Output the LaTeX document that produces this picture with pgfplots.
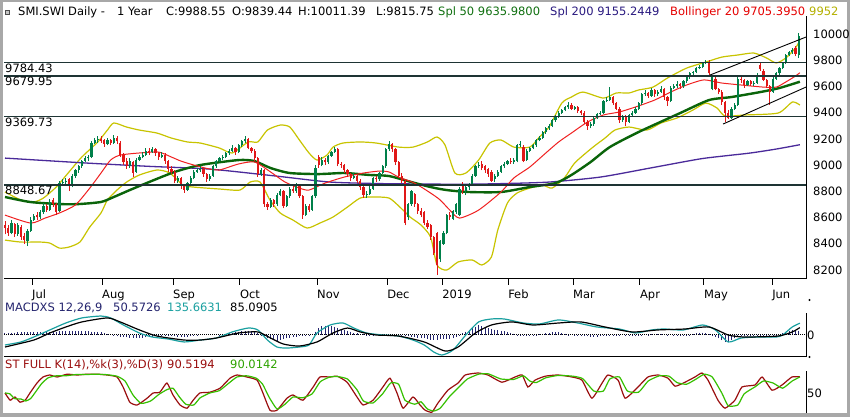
\documentclass[border=0pt]{standalone}
\usepackage{fontspec}
\setmainfont{DejaVu Sans}
\usepackage{pgfplots}
\usepackage{pgfplotstable}
\pgfplotsset{compat=1.18}

\definecolor{cgreen}{HTML}{00804A}
\definecolor{cred}{HTML}{E01818}
\definecolor{sma50}{HTML}{0A640A}
\definecolor{sma200}{HTML}{4A2A9A}
\definecolor{bbmid}{HTML}{F02020}
\definecolor{bband}{HTML}{C8C400}
\definecolor{hline}{HTML}{1E3434}
\definecolor{mteal}{HTML}{1AA0A0}
\definecolor{mnavy}{HTML}{24246E}
\definecolor{stk}{HTML}{9A0E0E}
\definecolor{std}{HTML}{36C000}
\definecolor{framec}{HTML}{A8A8A8}
\definecolor{ttlgreen}{HTML}{107010}
\definecolor{ttlpurple}{HTML}{2A1A80}
\definecolor{ttlolive}{HTML}{B4B000}

\pgfplotstableread[row sep=\\]{
o h l c\\
8540 8570 8470 8520\\ 8520 8540 8460 8480\\ 8480 8580 8470 8560\\ 8550 8560 8450 8470\\ 8470 8560 8460 8540\\
8530 8540 8430 8450\\ 8460 8480 8400 8430\\ 8420 8510 8380 8500\\ 8500 8600 8490 8580\\ 8580 8630 8570 8610\\
8620 8640 8580 8600\\ 8600 8660 8590 8640\\ 8640 8710 8630 8690\\ 8690 8700 8640 8660\\ 8660 8740 8650 8720\\
8730 8750 8680 8700\\ 8700 8710 8620 8640\\ 8650 8880 8640 8860\\ 8860 8890 8840 8870\\ 8870 8900 8850 8880\\
8890 8900 8800 8840\\ 8840 8930 8830 8920\\ 8920 8970 8900 8960\\ 8960 9000 8940 8990\\ 8990 9040 8980 9030\\
9030 9070 9020 9050\\ 9050 9080 9030 9060\\ 9060 9180 9050 9170\\ 9170 9210 9160 9190\\ 9190 9220 9170 9200\\
9200 9220 9170 9180\\ 9190 9200 9140 9160\\ 9160 9210 9150 9190\\ 9190 9200 9150 9170\\ 9170 9230 9160 9210\\
9210 9220 9160 9180\\ 9170 9180 9060 9080\\ 9080 9090 9000 9020\\ 9030 9050 8970 8990\\ 8990 9050 8980 9030\\
9020 9030 8910 8940\\ 8950 9050 8940 9040\\ 9040 9080 9030 9060\\ 9060 9100 9050 9080\\ 9080 9130 9070 9110\\
9110 9130 9080 9100\\ 9100 9140 9090 9120\\ 9120 9130 9070 9090\\ 9090 9100 9040 9060\\ 9060 9100 9050 9080\\
9080 9090 9010 9030\\ 9030 9040 8950 8970\\ 8970 8990 8930 8950\\ 8950 8960 8860 8880\\ 8880 8920 8860 8900\\
8900 8910 8820 8840\\ 8840 8850 8790 8810\\ 8810 8870 8800 8860\\ 8860 8920 8850 8900\\ 8900 8960 8890 8950\\
8950 8980 8940 8960\\ 8960 8990 8950 8970\\ 8970 8980 8910 8930\\ 8930 8940 8870 8890\\ 8890 8930 8880 8920\\
8920 9000 8910 8990\\ 8990 9040 8980 9030\\ 9030 9060 9020 9050\\ 9050 9080 9040 9060\\ 9060 9100 9050 9090\\
9090 9120 9080 9110\\ 9110 9150 9100 9130\\ 9130 9140 9080 9100\\ 9100 9160 9090 9150\\ 9150 9190 9140 9180\\
9180 9220 9170 9200\\ 9200 9210 9120 9130\\ 9130 9140 9090 9110\\ 9110 9120 9030 9050\\ 9050 9060 8910 8930\\
8930 8980 8920 8960\\ 8960 8970 8680 8700\\ 8700 8720 8660 8680\\ 8680 8750 8670 8730\\ 8730 8740 8680 8700\\
8700 8790 8690 8770\\ 8770 8820 8760 8800\\ 8800 8810 8670 8690\\ 8690 8770 8680 8760\\ 8760 8830 8750 8820\\
8820 8840 8790 8800\\ 8800 8860 8790 8840\\ 8840 8850 8750 8760\\ 8760 8770 8590 8620\\ 8620 8700 8610 8690\\
8690 8700 8640 8660\\ 8660 8770 8650 8760\\ 8760 9000 8750 8980\\ 9060 9080 8980 9000\\ 9000 9060 8990 9040\\
9040 9050 9000 9020\\ 9020 9080 9010 9070\\ 9070 9110 9060 9100\\ 9100 9140 9090 9120\\ 9120 9130 8990 9010\\
9010 9020 8980 9000\\ 9000 9010 8940 8960\\ 8960 8970 8910 8930\\ 8930 8940 8880 8900\\ 8900 8940 8890 8920\\
8920 8930 8860 8880\\ 8880 8890 8810 8830\\ 8830 8840 8750 8770\\ 8770 8800 8750 8780\\ 8780 8840 8770 8820\\
8820 8910 8810 8900\\ 8900 8920 8870 8890\\ 8890 8950 8880 8940\\ 8940 9000 8930 8990\\ 8990 9130 8980 9120\\
9120 9180 9110 9160\\ 9160 9170 9100 9120\\ 9120 9130 9000 9020\\ 9020 9030 8900 8920\\ 8920 8940 8860 8880\\
8880 8890 8540 8560\\ 8600 8710 8580 8700\\ 8700 8810 8690 8800\\ 8780 8790 8680 8700\\ 8700 8710 8630 8650\\
8650 8670 8600 8620\\ 8640 8650 8540 8560\\ 8560 8580 8510 8530\\ 8540 8550 8430 8450\\ 8450 8460 8310 8330\\
8480 8490 8160 8240\\ 8280 8430 8260 8420\\ 8400 8500 8390 8480\\ 8480 8630 8470 8620\\ 8620 8640 8580 8600\\
8590 8660 8580 8650\\ 8640 8710 8630 8700\\ 8620 8830 8610 8820\\ 8850 8870 8780 8800\\ 8800 8840 8770 8830\\
8830 8860 8810 8850\\ 8850 8930 8840 8920\\ 8920 9000 8910 8990\\ 8990 9020 8980 9000\\ 9010 9030 8960 8980\\
8990 9000 8940 8960\\ 8970 8980 8910 8930\\ 8950 8960 8870 8880\\ 8890 8930 8870 8920\\ 8920 8960 8910 8950\\
8950 9000 8940 8990\\ 8990 9020 8980 9010\\ 9010 9040 9000 9030\\ 9030 9050 9010 9020\\ 9020 9050 9010 9040\\
9030 9160 9020 9150\\ 9150 9180 9140 9160\\ 9140 9150 9020 9030\\ 9040 9120 9030 9110\\ 9110 9140 9100 9130\\
9130 9160 9120 9150\\ 9150 9200 9140 9190\\ 9190 9220 9180 9210\\ 9210 9260 9200 9250\\ 9250 9290 9240 9280\\
9280 9310 9270 9300\\ 9300 9350 9290 9340\\ 9340 9380 9330 9370\\ 9370 9410 9360 9400\\ 9400 9430 9390 9420\\
9420 9450 9410 9440\\ 9440 9480 9430 9460\\ 9460 9470 9420 9430\\ 9430 9450 9420 9440\\ 9440 9450 9400 9410\\
9410 9420 9380 9400\\ 9400 9410 9310 9330\\ 9330 9340 9270 9300\\ 9300 9330 9280 9310\\ 9310 9370 9300 9360\\
9360 9400 9350 9390\\ 9390 9410 9380 9400\\ 9400 9500 9390 9490\\ 9490 9520 9480 9500\\ 9500 9595 9490 9520\\
9520 9530 9460 9470\\ 9470 9480 9420 9430\\ 9430 9440 9320 9340\\ 9340 9380 9330 9370\\ 9370 9380 9300 9330\\
9330 9390 9320 9380\\ 9380 9410 9370 9400\\ 9400 9440 9390 9430\\ 9430 9480 9420 9470\\ 9470 9550 9460 9540\\
9540 9570 9530 9550\\ 9550 9560 9510 9530\\ 9530 9590 9520 9570\\ 9570 9580 9520 9540\\ 9540 9570 9530 9560\\
9560 9600 9550 9580\\ 9580 9590 9500 9520\\ 9520 9530 9450 9490\\ 9490 9600 9480 9590\\ 9590 9620 9580 9600\\
9600 9640 9590 9620\\ 9620 9630 9580 9600\\ 9600 9650 9590 9640\\ 9640 9680 9630 9670\\ 9670 9710 9660 9700\\
9700 9720 9690 9710\\ 9710 9750 9700 9740\\ 9740 9760 9730 9750\\ 9750 9790 9740 9780\\ 9780 9800 9770 9790\\
9790 9800 9690 9700\\ 9580 9680 9570 9670\\ 9660 9670 9570 9580\\ 9580 9590 9540 9560\\ 9560 9570 9460 9480\\
9480 9490 9325 9400\\ 9400 9420 9350 9360\\ 9360 9440 9350 9430\\ 9430 9470 9420 9460\\ 9460 9680 9450 9660\\
9660 9680 9630 9650\\ 9650 9660 9590 9610\\ 9610 9650 9600 9640\\ 9640 9650 9600 9620\\ 9620 9640 9600 9630\\
9630 9700 9620 9690\\ 9760 9780 9720 9730\\ 9720 9730 9640 9650\\ 9650 9660 9590 9600\\ 9600 9610 9460 9560\\
9560 9670 9550 9660\\ 9660 9710 9650 9700\\ 9700 9750 9690 9740\\ 9740 9790 9730 9780\\ 9780 9850 9770 9840\\
9840 9870 9830 9860\\ 9860 9890 9850 9880\\ 9890 9905 9830 9850\\ 9839.44 10011.39 9815.75 9988.55\\
}\candles

\pgfplotstableread[row sep=\\]{
v z\\
23 0\\ 25 0\\ 27 0\\ 28 0\\ 29 0\\ 30 0\\ 31 0\\ 32 0\\ 33 0\\ 35 0\\
35 0\\ 35 0\\ 35 0\\ 35 0\\ 35 0\\ 37 0\\ 39 0\\ 41 0\\ 43 0\\ 46 0\\
46 0\\ 46 0\\ 46 0\\ 46 0\\ 46 0\\ 44 0\\ 42 0\\ 40 0\\ 37 0\\ 35 0\\
33 0\\ 22 0\\ 11 0\\ 0 0\\ -8 0\\ -15 0\\ -20 0\\ -25 0\\ -28 0\\ -31 0\\
-33 0\\ -34 0\\ -35 0\\ -32 0\\ -28 0\\ -24 0\\ -20 0\\ -16 0\\ -14 0\\ -12 0\\
-11 0\\ -11 0\\ -14 0\\ -17 0\\ -20 0\\ -22 0\\ -22 0\\ -18 0\\ -12 0\\ -6 0\\
-2 0\\ 0 0\\ 0 0\\ 0 0\\ 0 0\\ 0 0\\ 0 0\\ 5 0\\ 10 0\\ 15 0\\
20 0\\ 25 0\\ 32 0\\ 38 0\\ 44 0\\ 48 0\\ 50 0\\ 45 0\\ 35 0\\ 23 0\\
5 0\\ -15 0\\ -38 0\\ -50 0\\ -60 0\\ -68 0\\ -60 0\\ -50 0\\ -40 0\\ -32 0\\
-25 0\\ -18 0\\ -11 0\\ -8 0\\ -6 0\\ -5 0\\ 10 0\\ 40 0\\ 75 0\\ 100 0\\
108 0\\ 108 0\\ 105 0\\ 95 0\\ 82 0\\ 70 0\\ 63 0\\ 50 0\\ 38 0\\ 25 0\\
18 0\\ 12 0\\ 6 0\\ 3 0\\ 2 0\\ 1 0\\ 0 0\\ 0 0\\ 0 0\\ 0 0\\
0 0\\ 0 0\\ 0 0\\ 0 0\\ -5 0\\ -10 0\\ -14 0\\ -18 0\\ -24 0\\ -30 0\\
-35 0\\ -35 0\\ -45 0\\ -52 0\\ -56 0\\ -52 0\\ -48 0\\ -46 0\\ -45 0\\ -43 0\\
-40 0\\ -25 0\\ -5 0\\ 20 0\\ 40 0\\ 60 0\\ 78 0\\ 95 0\\ 110 0\\ 100 0\\
90 0\\ 80 0\\ 69 0\\ 62 0\\ 56 0\\ 50 0\\ 44 0\\ 35 0\\ 25 0\\ 15 0\\
5 0\\ -2 0\\ -7 0\\ -5 0\\ -2 0\\ 2 0\\ 5 0\\ 7 0\\ 12 0\\ 18 0\\
24 0\\ 30 0\\ 34 0\\ 35 0\\ 25 0\\ 15 0\\ 5 0\\ 0 0\\ -5 0\\ -10 0\\
-12 0\\ -14 0\\ -16 0\\ -18 0\\ -18 0\\ -18 0\\ -14 0\\ -10 0\\ -6 0\\ -2 0\\
2 0\\ 4 0\\ 4 0\\ 0 0\\ -4 0\\ -8 0\\ -12 0\\ -12 0\\ -8 0\\ -4 0\\
0 0\\ 3 0\\ 6 0\\ 8 0\\ 9 0\\ 9 0\\ 9 0\\ 5 0\\ 0 0\\ -4 0\\
-8 0\\ -11 0\\ -11 0\\ -5 0\\ 3 0\\ 10 0\\ 18 0\\ 27 0\\ 27 0\\ 20 0\\
8 0\\ -6 0\\ -22 0\\ -40 0\\ -60 0\\ -75 0\\ -80 0\\ -60 0\\ -40 0\\ -25 0\\
-15 0\\ -12 0\\ -10 0\\ -8 0\\ -6 0\\ -5 0\\ -6 0\\ -8 0\\ -10 0\\ -11 0\\
-11 0\\ -8 0\\ 5 0\\ 20 0\\ 35 0\\ 48 0\\ 57 0\\ 55 0\\ 50.57 0\\
}\hist

\newcommand{\lbl}{\fontsize{11.5}{13}\selectfont}

\begin{document}
\begin{tikzpicture}[x=1pt,y=1pt,font=\lbl]
\useasboundingbox (0,0) rectangle (850,417);
\fill[framec] (0,0) rectangle (850,417);
\fill[white] (3,4) rectangle (847,415);

% ---------------- price panel ----------------
\begin{axis}[at={(4pt,138pt)}, anchor=south west, scale only axis,
  width=802pt, height=276pt,
  xmin=-0.3125, xmax=250.3125, ymin=8130, ymax=10237,
  axis x line*=bottom, axis y line*=right,
  y axis line style={draw=none},
  x axis line style={line width=1pt},
  xtick={8.44,30.3,52.5,73.4,97.5,119.4,136.6,157.2,177.5,198.4,218.4,239.7},
  xticklabels={Jul,Aug,Sep,Oct,Nov,Dec,2019,Feb,Mar,Apr,May,Jun},
  tick align=outside, major tick length=6pt,
  x tick style={black, line width=0.8pt},
  xticklabel style={anchor=north west, xshift=-1pt, yshift=-4pt, inner sep=1pt, font=\lbl},
  ytick={8200,8400,8600,8800,9000,9200,9400,9600,9800,10000},
  yticklabels={8200,8400,8600,8800,9000,9200,9400,9600,9800,10000},
  y tick style={draw=none},
  yticklabel style={anchor=west, inner sep=1pt, font=\lbl},
]
% Bollinger upper
\addplot[bband, line width=1.2pt, smooth, tension=0.4] coordinates {
(0,8794) (5,8733) (9,8718) (12,8748) (16,8832) (20,8947) (24,9061) (29,9176) (32,9267) (34,9321)
(38,9290) (42,9267) (47.5,9244) (52,9206) (57,9176) (61,9168) (67,9130) (71,9092) (76,9176) (79,9176)
(82,9267) (86,9305) (89,9290) (92,9191) (95,9092) (97.5,9038) (100.6,9076) (102.5,9137) (105.6,9168)
(111,9176) (116,9168) (123,9137) (127.5,9137) (132,9176) (135,9214) (137.5,9153) (140.6,8939) (144,8939)
(148,9038) (151.5,9168) (155,9191) (159,9137) (164,9137) (167,9214) (170,9290) (174,9473) (177,9519)
(180.6,9557) (187,9511) (191,9550) (195,9550) (198,9573) (202.5,9595) (207,9664) (213,9740) (219,9786)
(224,9824) (229,9840) (234,9855) (238,9817) (241,9779) (244,9817) (247,9893) (248.4,9952)};
% Bollinger lower
\addplot[bband, line width=1.2pt, smooth, tension=0.4] coordinates {
(0,8427) (5,8412) (11,8412) (14,8404) (17,8366) (20,8374) (23.4,8412) (26.5,8527) (30,8634) (32,8733)
(35,8809) (38,8870) (42,8924) (47.5,8962) (51.5,8939) (55.6,8847) (58.8,8832) (67,8817) (73.4,8809)
(76.6,8870) (79.7,8870) (82.8,8733) (86,8634) (90,8580) (94.4,8519) (98.4,8557) (102.5,8603) (107,8679)
(111,8748) (115,8756) (120,8748) (123.4,8679) (126.6,8603) (130,8542) (133,8450) (135,8237) (138,8198)
(141.6,8260) (146,8275) (149,8237) (152,8298) (154,8504) (157,8710) (160,8786) (164,8824) (168,8847)
(171,8824) (175,8908) (178,9015) (183.4,9130) (187.5,9206) (190.6,9267) (195,9290) (200.6,9267)
(205,9321) (210,9359) (215,9420) (219,9473) (222.5,9435) (225,9374) (231,9382) (241.6,9397) (246,9481)
(248.4,9458)};
% SMA 200
\addplot[sma200, line width=1.3pt, smooth, tension=0.4] coordinates {
(0,9053) (25.6,9015) (45,8990) (64,8969) (85,8915) (101.6,8870) (118,8858) (132.8,8855) (142,8853)
(155,8858) (170,8870) (186,8908) (201.6,8977) (217,9046) (225,9070) (233,9092) (241,9122) (248.4,9155)};
% SMA 50
\addplot[sma50, line width=2.4pt, smooth, tension=0.4] coordinates {
(0,8756) (7.8,8718) (17,8702) (23,8702) (30,8718) (34,8756) (39,8809) (45,8870) (53,8947) (61,9000)
(73,9038) (78,9030) (83,8977) (89,8939) (98,8931) (106,8939) (114,8924) (120,8916) (127,8870) (133,8832)
(138,8809) (145,8794) (155,8794) (164,8832) (172,8862) (177,8924) (183,9023) (189,9137) (198,9252)
(211,9397) (220,9496) (227,9519) (236,9557) (242,9588) (248.4,9636)};
% Bollinger middle
\addplot[bbmid, line width=1pt, smooth, tension=0.4] coordinates {
(0,8618) (8,8557) (12.5,8595) (17,8634) (22,8695) (26.5,8824) (30,8939) (33,9038) (36,9076) (42,9092)
(48,9099) (52,9061) (55,9030) (59,9000) (64,8969) (67,8962) (73,9008) (78,9023) (83,8947) (87.5,8870)
(92,8824) (95,8809) (100,8862) (106,8908) (112,8939) (117,8954) (120,8947) (123,8908) (128,8862)
(133,8786) (136,8733) (139,8656) (142,8595) (148,8656) (155,8794) (159,8901) (164,8985) (169,9092)
(173,9176) (177,9244) (182,9328) (187,9382) (192,9405) (197,9443) (203,9496) (208,9557) (213,9611)
(218,9649) (221,9641) (224,9626) (230,9611) (237,9595) (241,9595) (244,9634) (247,9679) (248.4,9705)};
% candles: wicks and bodies
\addplot[cgreen, line width=0.8pt, quiver={u=0, v=\thisrow{h}-\thisrow{l}},
  restrict expr to domain={\thisrow{c}-\thisrow{o}}{0:100000}]
  table[x expr=\coordindex, y=l] {\candles};
\addplot[cred, line width=0.8pt, quiver={u=0, v=\thisrow{h}-\thisrow{l}},
  restrict expr to domain={\thisrow{c}-\thisrow{o}}{-100000:-0.001}]
  table[x expr=\coordindex, y=l] {\candles};
\addplot[cgreen, line width=2.2pt, quiver={u=0, v={max(abs(\thisrow{c}-\thisrow{o}),8)}},
  restrict expr to domain={\thisrow{c}-\thisrow{o}}{0:100000}]
  table[x expr=\coordindex, y expr={min(\thisrow{o},\thisrow{c})}] {\candles};
\addplot[cred, line width=2.2pt, quiver={u=0, v={max(abs(\thisrow{c}-\thisrow{o}),8)}},
  restrict expr to domain={\thisrow{c}-\thisrow{o}}{-100000:-0.001}]
  table[x expr=\coordindex, y expr={min(\thisrow{o},\thisrow{c})}] {\candles};
% horizontal levels
\addplot[hline, line width=1.3pt] coordinates {(-0.3125,9784.43) (250.3125,9784.43)};
\addplot[hline, line width=1.3pt] coordinates {(-0.3125,9679.95) (250.3125,9679.95)};
\addplot[hline, line width=1.3pt] coordinates {(-0.3125,9369.73) (250.3125,9369.73)};
\addplot[hline, line width=1.3pt] coordinates {(-0.3125,8848.67) (250.3125,8848.67)};
% channel lines
\addplot[black, line width=0.9pt] coordinates {(220.3,9687) (250.3,9977)};
\addplot[black, line width=0.9pt] coordinates {(224.4,9313) (250.3,9595)};
\node[anchor=north west, inner sep=1pt, font=\lbl] at (axis cs:-0.3125,9784.43) {9784.43};
\node[anchor=north west, inner sep=1pt, font=\lbl] at (axis cs:-0.3125,9679.95) {9679.95};
\node[anchor=north west, inner sep=1pt, font=\lbl] at (axis cs:-0.3125,9369.73) {9369.73};
\node[anchor=north west, inner sep=1pt, font=\lbl] at (axis cs:-0.3125,8848.67) {8848.67};
\end{axis}
\draw[line width=1pt] (806,138) -- (806,401);

% title
\filldraw[fill=gray!45, draw=black!70, line width=0.4pt] (5,403) rectangle (9,407);
\node[anchor=base west, inner sep=0pt] at (18,401) {SMI.SWI Daily -};
\node[anchor=base west, inner sep=0pt] at (117,401) {1 Year};
\node[anchor=base west, inner sep=0pt] at (166,401) {C:9988.55};
\node[anchor=base west, inner sep=0pt] at (232,401) {O:9839.44};
\node[anchor=base west, inner sep=0pt] at (298,401) {H:10011.39};
\node[anchor=base west, inner sep=0pt] at (376,401) {L:9815.75};
\node[anchor=base west, inner sep=0pt, text=ttlgreen] at (438,401) {Spl 50 9635.9800};
\node[anchor=base west, inner sep=0pt, text=ttlpurple] at (550,401) {Spl 200 9155.2449};
\node[anchor=base west, inner sep=0pt, text=red!90!black] at (670,401) {Bollinger 20 9705.3950};
\node[anchor=base west, inner sep=0pt, text=ttlolive] at (809,401) {9952};

% ---------------- MACD panel ----------------
\begin{axis}[at={(4pt,60pt)}, anchor=south west, scale only axis,
  width=802pt, height=44pt,
  xmin=-0.3125, xmax=250.3125, ymin=-253, ymax=253,
  axis x line*=bottom, axis y line*=right,
  axis line style={line width=1pt},
  xtick=\empty,
  ytick={0}, yticklabels={0}, y tick style={draw=none},
  yticklabel style={anchor=west, inner sep=1pt, font=\lbl},
]
\addplot[mnavy, line width=1pt, quiver={u=0, v=-\thisrow{v}}]
  table[x expr=\coordindex, y=v] {\hist};
\addplot[black, densely dotted, line width=1pt] coordinates {(-0.3125,0) (250.3125,0)};
\addplot[mteal, line width=1.2pt, smooth, tension=0.4] coordinates {
(0,-115) (5,-80) (9,-23) (14,58) (19,138) (24,196) (30,218) (33,196) (37,115) (42,23) (46,-23) (51,-46)
(56,-80) (61,-58) (66,-35) (71,35) (76,80) (79,58) (82,-58) (85,-138) (88,-150) (92,-138) (95,-115)
(97.5,23) (101.6,115) (105.6,138) (109,80) (113,23) (118,0) (123,-12) (127.5,-58) (131,-115) (134,-196)
(136.6,-230) (140,-173) (144,0) (148,150) (152,184) (156,184) (162,138) (167,127) (173,173) (179,138)
(185,92) (192,69) (197,23) (202,58) (206,69) (212,58) (218,115) (222,58) (226,-80) (230,-35) (235,-23)
(241,-23) (243,0) (246,92) (248.4,135.66)};
\addplot[black, line width=1.2pt, smooth, tension=0.4] coordinates {
(0,-138) (9,-58) (14,23) (19,92) (24,150) (32,196) (36,150) (42,58) (47.5,-12) (56,-58) (61,-58)
(66,-35) (73,23) (79,35) (83,-35) (87,-104) (92,-127) (97.5,-80) (102.5,23) (107,80) (111,35) (116,0)
(123,-12) (131,-80) (137.5,-184) (141.6,-138) (147,23) (152,115) (158.4,150) (165,115) (173,138)
(180,150) (187.5,92) (196,35) (204,58) (212.5,69) (220,92) (226,0) (231,-23) (241.6,-12) (246,35)
(248.4,85.09)};
\end{axis}
\fill (809.5,117) circle (1.1pt);
\fill (809.5,60) circle (1.1pt);
\node[anchor=base west, inner sep=0pt, text=mnavy] at (5,105) {MACDXS 12,26,9};
\node[anchor=base west, inner sep=0pt, text=mnavy] at (113,105) {50.5726};
\node[anchor=base west, inner sep=0pt, text=mteal] at (167,105) {135.6631};
\node[anchor=base west, inner sep=0pt, text=black] at (230,105) {85.0905};

% ---------------- Stochastic panel ----------------
\begin{axis}[at={(4pt,4pt)}, anchor=south west, scale only axis,
  width=802pt, height=42pt,
  xmin=-0.3125, xmax=250.3125, ymin=0, ymax=105,
  axis x line=none, axis y line*=right,
  axis line style={line width=1pt},
  ytick={50}, yticklabels={50}, y tick style={draw=none},
  yticklabel style={anchor=west, inner sep=1pt, font=\lbl},
]
\addplot[stk, line width=1.2pt, smooth, tension=0.3] coordinates {
(0,50) (1.6,32) (3.1,40) (4.7,27) (6.3,32) (7.8,50) (10,75) (11.9,90) (14,95) (16.3,90) (19.4,97)
(22.5,95) (25.6,97) (28.8,97) (31.9,95) (35,90) (36.9,65) (39,27) (41.3,20) (44.4,37) (46.3,50)
(48.4,52) (50.6,75) (52.5,45) (54.7,20) (56.9,12) (58.8,32) (60.9,50) (64,52) (67.2,62) (70.3,87)
(72.5,95) (75.6,90) (78.8,82) (80.6,50) (82.8,7) (85,7) (88.1,37) (90,45) (93.1,32) (96.3,65) (98.4,90)
(101.6,90) (103.8,92) (106.9,77) (110,40) (111.9,20) (115,32) (118.1,65) (120.3,87) (122.5,50)
(124.4,12) (127.5,40) (129.7,20) (131.3,7) (133.4,2) (135.3,25) (138.4,57) (141.6,75) (143.8,95)
(147.8,100) (150.9,95) (155.3,77) (159.4,90) (161.6,95) (163.4,65) (165.6,82) (168.8,92) (172.8,95)
(177.2,90) (180.3,82) (183.4,37) (186.6,75) (188.4,95) (191.6,82) (193.8,37) (197.8,65) (200.9,90)
(204.1,95) (207.2,87) (209.4,67) (212.5,77) (215.6,90) (217.8,100) (219.7,82) (222.8,32) (225,12)
(228.1,32) (230.3,65) (234.4,70) (236.6,90) (239.7,57) (242.8,70) (245.9,90) (248.4,90.5)};
\addplot[std, line width=1.2pt, smooth, tension=0.3] coordinates {
(0,50) (1.5,48) (3,36) (5,35) (6.5,30) (8,36) (9.5,52) (11.5,74) (13.5,88) (16,93) (19,93) (22,96)
(25,96) (28,97) (31.5,96) (35,92) (37.5,80) (40,45) (42.5,24) (45.5,30) (48,46) (50.5,58) (52.5,62)
(54.5,40) (56.5,22) (59,20) (61,38) (64,50) (67,56) (70,75) (72.5,90) (75.5,93) (78.5,87) (80.5,72)
(82.5,40) (85,10) (87.5,22) (90,40) (93,38) (96,48) (98.5,78) (101.5,90) (104,91) (107,85) (110,58)
(112,30) (115,25) (118,48) (120.5,75) (123,72) (125,32) (128,22) (130,28) (132,10) (134,5) (136,12)
(139,42) (142,66) (144.5,85) (148,97) (151,98) (155,85) (159,84) (162,93) (164,80) (166,76) (169,88)
(173,94) (177.5,92) (180.5,86) (184,55) (187,55) (189,85) (192,90) (194.5,55) (198,52) (201,80)
(204.5,93) (207.5,92) (210,76) (213,72) (216,85) (218.5,97) (221,90) (224,50) (226,18) (229,20)
(231,48) (234.5,66) (237,80) (240,75) (243,62) (246,80) (248.4,90)};
\end{axis}
\node[anchor=base west, inner sep=0pt, text=stk] at (5,48) {ST FULL K(14),\%k(3),\%D(3)};
\node[anchor=base west, inner sep=0pt, text=stk] at (167,48) {90.5194};
\node[anchor=base west, inner sep=0pt, text=std!85!black] at (230,48) {90.0142};
\end{tikzpicture}
\end{document}
